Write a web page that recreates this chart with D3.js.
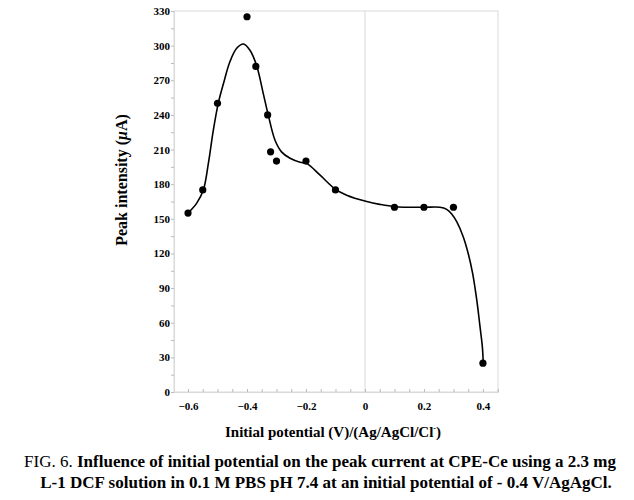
<!DOCTYPE html>
<html><head><meta charset="utf-8">
<script src="https://cdn.jsdelivr.net/npm/d3@7"></script>
<style>body{margin:0;background:#fff}svg{display:block}</style>
</head><body><svg id="c" width="634" height="500"></svg>
<script>
const potentials = [-0.6,-0.55,-0.5,-0.4,-0.37,-0.33,-0.32,-0.3,-0.2,-0.1,0.1,0.2,0.3,0.4];
const intensities = [155,175,250,325,282,240,208,200,200,175,160,160,160,25];
const fitX = [-0.6,-0.571,-0.548,-0.531,-0.514,-0.497,-0.48,-0.458,-0.435,-0.412,-0.39,-0.367,-0.345,-0.328,-0.305,-0.283,-0.254,-0.22,-0.198,-0.153,-0.102,-0.062,0.006,0.05,0.102,0.198,0.254,0.277,0.294,0.311,0.333,0.35,0.365,0.379,0.39,0.398,0.401];
const fitY = [155,163.4,175,198,227,250.6,267,286,297.7,301.4,296,282.4,258.7,240,218,208,202.4,199,198,188,176,170.5,165,162.5,160.5,160,160,158.2,154.2,147.5,134.5,120,102.8,79.7,56.6,39,25];
const xTicks = [-0.6,-0.4,-0.2,0,0.2,0.4];
const yTicks = [0,30,60,90,120,150,180,210,240,270,300,330];

const svg = d3.select('#c');
const L=174, R=498, T=11, B=392;
const x = d3.scaleLinear().domain([-0.6475,0.451]).range([L,R]);
const y = d3.scaleLinear().domain([0,330]).range([B,T]);
const grey = '#d9d9d9';
const serif = '"Liberation Serif","Times New Roman",serif';

svg.append('rect').attr('x',L).attr('y',T).attr('width',R-L).attr('height',B-T)
  .attr('fill','none').attr('stroke',grey).attr('stroke-width',1);
svg.append('line').attr('x1',x(0)).attr('x2',x(0)).attr('y1',T).attr('y2',B)
  .attr('stroke',grey).attr('stroke-width',1);

const xa = svg.append('g').attr('transform',`translate(0,${B})`)
  .call(d3.axisBottom(x).tickValues(d3.range(-0.6,0.4501,0.05).map(v=>+v.toFixed(2))).tickSize(-3).tickFormat(''));
xa.select('.domain').attr('stroke',grey);
xa.selectAll('.tick line').attr('stroke','#bbb');
const xl = svg.append('g').attr('transform',`translate(0,${B})`)
  .call(d3.axisBottom(x).tickValues(xTicks).tickSize(0).tickPadding(10).tickFormat(d=>d===0?'0':d3.format('.1f')(d)));
xl.select('.domain').remove();
xl.selectAll('text').attr('font-family',serif).attr('font-weight','bold').attr('font-size',11).attr('fill','#000');

const ya = svg.append('g').attr('transform',`translate(${L},0)`)
  .call(d3.axisLeft(y).tickValues(d3.range(0,331,15)).tickSize(3).tickFormat(''));
ya.select('.domain').attr('stroke',grey);
ya.selectAll('.tick line').attr('stroke','#bbb');
const yl = svg.append('g').attr('transform',`translate(${L},0)`)
  .call(d3.axisLeft(y).tickValues(yTicks).tickSize(0).tickPadding(4));
yl.select('.domain').remove();
yl.selectAll('text').attr('font-family',serif).attr('font-weight','bold').attr('font-size',11).attr('fill','#000');

svg.append('path').datum(fitX.map((v,i)=>[v,fitY[i]]))
  .attr('d',d3.line().x(d=>x(d[0])).y(d=>y(d[1])).curve(d3.curveCatmullRom.alpha(0.5)))
  .attr('fill','none').attr('stroke','#000').attr('stroke-width',1.6);

svg.selectAll('circle.pt').data(potentials.map((v,i)=>[v,intensities[i]])).enter()
  .append('circle').attr('class','pt').attr('cx',d=>x(d[0])).attr('cy',d=>y(d[1])).attr('r',3.6).attr('fill','#000');

svg.append('text').attr('x',333).attr('y',437).attr('text-anchor','middle')
  .attr('font-family',serif).attr('font-weight','bold').attr('font-size',15)
  .html('Initial potential (V)/(Ag/AgCl/Cl<tspan dy="-6" font-size="8">-</tspan><tspan dy="6">)</tspan>');
svg.append('text').attr('transform','translate(127,180) rotate(-90)').attr('text-anchor','middle')
  .attr('font-family',serif).attr('font-weight','bold').attr('font-size',16)
  .html('Peak intensity (<tspan font-style="italic">μ</tspan>A)');

const cap = svg.append('g').attr('font-family',serif).attr('font-size',17).attr('text-anchor','middle');
cap.append('text').attr('x',320).attr('y',467)
  .html('FIG. 6. <tspan font-weight="bold">Influence of initial potential on the peak current at CPE-Ce using a 2.3 mg</tspan>');
cap.append('text').attr('x',326).attr('y',488).attr('font-weight','bold')
  .text('L-1 DCF solution in 0.1 M PBS pH 7.4 at an initial potential of - 0.4 V/AgAgCl.');
</script></body></html>
